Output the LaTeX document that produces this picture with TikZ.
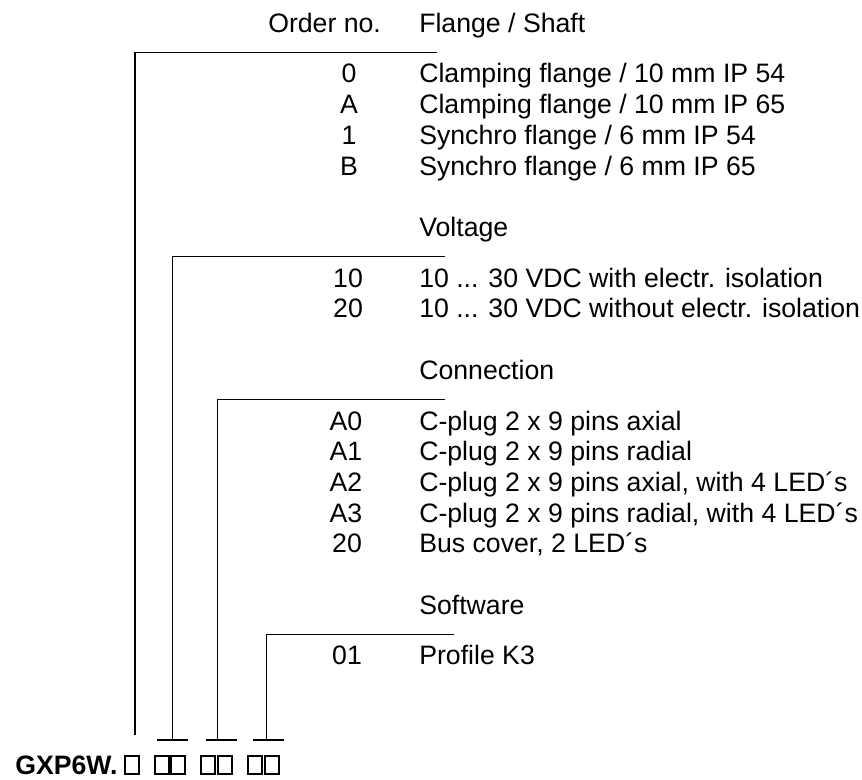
\documentclass[tikz,border=0pt]{standalone}
\usepackage{fontspec}
\setmainfont{Liberation Sans}
\begin{document}
\begin{tikzpicture}[x=0.75pt,y=-0.75pt,
  txt/.style={inner sep=0pt,font=\fontsize{20}{24}\selectfont},
  code/.style={txt,anchor=base},
  desc/.style={txt,anchor=base west},
  rule/.style={line width=0.9pt},
  slot/.style={line width=0.8pt}]
\useasboundingbox (0,0) rectangle (862,780);
% headers and rows: section 1
\node[desc] (hOrder) at (268,32.3) {Order no.};
\node[desc] (hFlange) at (419,32.3) {Flange / Shaft};
\node[code] (c0) at (349,83) {0};
\node[desc] (d0) at (419,83) {Clamping flange / 10 mm IP 54};
\node[code] (cA) at (349,113.7) {A};
\node[desc] (dA) at (419,113.7) {Clamping flange / 10 mm IP 65};
\node[code] (c1) at (349,144.4) {1};
\node[desc] (d1) at (419,144.4) {Synchro flange / 6 mm IP 54};
\node[code] (cB) at (349,175.1) {B};
\node[desc] (dB) at (419,175.1) {Synchro flange / 6 mm IP 65};
% section 2
\node[desc] (hVolt) at (419,236.5) {Voltage};
\node[code] (c10) at (348,287.2) {10};
\node[desc] (d10) at (419,287.2) {10 ... 30 VDC with electr. isolation};
\node[code] (c20) at (348,317.9) {20};
\node[desc] (d20) at (419,317.9) {10 ... 30 VDC without electr. isolation};
% section 3
\node[desc] (hConn) at (419,379.3) {Connection};
\node[code] (cA0) at (346,430) {A0};
\node[desc] (dA0) at (419,430) {C-plug 2 x 9 pins axial};
\node[code] (cA1) at (346,460.7) {A1};
\node[desc] (dA1) at (419,460.7) {C-plug 2 x 9 pins radial};
\node[code] (cA2) at (346,491.4) {A2};
\node[desc] (dA2) at (419,491.4) {C-plug 2 x 9 pins axial, with 4 LED´s};
\node[code] (cA3) at (346,522.1) {A3};
\node[desc] (dA3) at (419,522.1) {C-plug 2 x 9 pins radial, with 4 LED´s};
\node[code] (c20b) at (347,552.8) {20};
\node[desc] (d20b) at (419,552.8) {Bus cover, 2 LED´s};
% section 4
\node[desc] (hSoft) at (419,614.2) {Software};
\node[code] (c01) at (347,664.9) {01};
\node[desc] (d01) at (419,664.9) {Profile K3};
% type code
\node[desc,font=\fontsize{20}{24}\selectfont\bfseries] (gxp) at (15,774) {GXP6W.};
% slots
\draw[slot] (125,756) rectangle (139,774);
\draw[slot] (155,756) rectangle (169,774);
\draw[slot] (171,756) rectangle (185,774);
\draw[slot] (201,756) rectangle (215,774);
\draw[slot] (218,756) rectangle (232,774);
\draw[slot] (248,756) rectangle (262,774);
\draw[slot] (265,756) rectangle (279,774);
% connectors
\coordinate (e1) at (437,52.5);
\coordinate (k1) at (135,52.5);
\coordinate (f1) at (135,735);
\draw[rule] (e1) -- (k1) -- (f1);
\coordinate (e2) at (445,256.5);
\coordinate (k2) at (172.5,256.5);
\coordinate (f2) at (172.5,740);
\coordinate (fl2) at (157,740);
\coordinate (fr2) at (188,740);
\draw[rule] (e2) -- (k2) -- (f2);
\draw[rule] (fl2) -- (fr2);
\coordinate (e3) at (445,399.3);
\coordinate (k3) at (217.7,399.3);
\coordinate (f3) at (217.7,740);
\coordinate (fl3) at (206,740);
\coordinate (fr3) at (237,740);
\draw[rule] (e3) -- (k3) -- (f3);
\draw[rule] (fl3) -- (fr3);
\coordinate (e4) at (454,634.2);
\coordinate (k4) at (266.7,634.2);
\coordinate (f4) at (266.7,740);
\coordinate (fl4) at (253,740);
\coordinate (fr4) at (284,740);
\draw[rule] (e4) -- (k4) -- (f4);
\draw[rule] (fl4) -- (fr4);
\end{tikzpicture}
\end{document}
